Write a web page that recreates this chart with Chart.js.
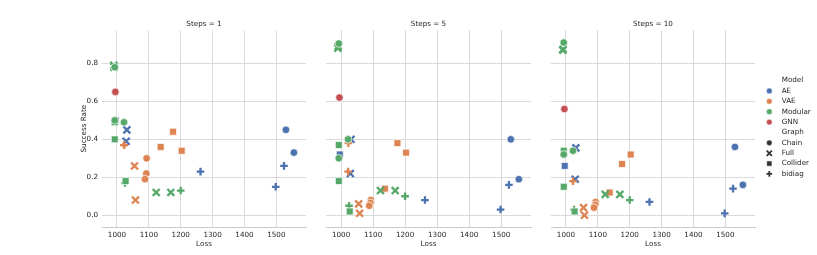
<!DOCTYPE html>
<html>
<head>
<meta charset="utf-8">
<script src="https://cdn.jsdelivr.net/npm/chart.js@4.4.1/dist/chart.umd.min.js"></script>
<style>
  html, body { margin: 0; padding: 0; background: #fff; }
  #wrap { position: relative; width: 817px; height: 255px; }
  #wrap canvas { position: absolute; left: 0; top: 0; }
</style>
</head>
<body>
<div id="wrap">
  <canvas id="panel0" width="817" height="255"></canvas>
  <canvas id="panel1" width="817" height="255"></canvas>
  <canvas id="panel2" width="817" height="255"></canvas>
</div>
<script>
const steps = [1, 5, 10];
const models = ['AE', 'VAE', 'Modular', 'GNN'];
const graphs = ['Chain', 'Full', 'Collider', 'bidiag'];
const xTicks = [1000, 1100, 1200, 1300, 1400, 1500];
const yTicks = [0.0, 0.2, 0.4, 0.6, 0.8];

// one entry per run; the loss is the same in every panel
const runModel = [
  'AE', 'AE', 'AE', 'AE', 'AE', 'AE', 'AE', 'AE',
  'VAE', 'VAE', 'VAE', 'VAE', 'VAE', 'VAE', 'VAE', 'VAE', 'VAE', 'VAE',
  'Modular', 'Modular', 'Modular', 'Modular', 'Modular', 'Modular', 'Modular', 'Modular', 'Modular', 'Modular', 'Modular', 'Modular',
  'GNN'
];
const runGraph = [
  'Chain', 'Chain', 'bidiag', 'bidiag', 'bidiag', 'Full', 'Full', 'Collider',
  'Collider', 'Collider', 'Collider', 'Chain', 'Chain', 'Chain', 'Full', 'Full', 'bidiag', 'bidiag',
  'Full', 'Full', 'Chain', 'Collider', 'Collider', 'Chain', 'Chain', 'Collider', 'bidiag', 'Full', 'Full', 'bidiag',
  'Chain'
];
const runLoss = [
  1530, 1555, 1524, 1498, 1262, 1031, 1029, 996,
  1176, 1203, 1137, 1093, 1092, 1088, 1055, 1058, 1022, 1023,
  990, 991, 993, 993, 993, 1022, 993, 1027, 1025, 1123, 1169, 1200,
  995
];
const successStep1 = [
  0.45, 0.33, 0.26, 0.15, 0.23, 0.45, 0.39, 0.50,
  0.44, 0.34, 0.36, 0.30, 0.22, 0.19, 0.26, 0.08, 0.37, 0.37,
  0.79, 0.78, 0.78, 0.49, 0.40, 0.49, 0.50, 0.18, 0.17, 0.12, 0.12, 0.13,
  0.65
];
const successStep5 = [
  0.40, 0.19, 0.16, 0.03, 0.08, 0.40, 0.22, 0.32,
  0.38, 0.33, 0.14, 0.08, 0.065, 0.05, 0.06, 0.01, 0.23, 0.38,
  0.88, 0.89, 0.905, 0.37, 0.18, 0.40, 0.30, 0.02, 0.05, 0.13, 0.13, 0.10,
  0.62
];
const successStep10 = [
  0.36, 0.16, 0.14, 0.01, 0.07, 0.355, 0.19, 0.26,
  0.27, 0.32, 0.12, 0.07, 0.055, 0.04, 0.04, 0.00, 0.18, 0.34,
  0.87, 0.875, 0.91, 0.34, 0.15, 0.34, 0.32, 0.02, 0.03, 0.11, 0.11, 0.08,
  0.56
];
const successBySteps = [successStep1, successStep5, successStep10];

const modelColors = ['#4C72B0', '#DD8452', '#55A868', '#C44E52'];
const graphStyles = ['circle', 'crossRot', 'rect', 'cross'];
const graphRadius = [3.8, 4.9, 4.9, 3.8];

const FONT = 'DejaVu Sans';
const TEXT = '#262626';
const GRID = '#dadada';
const plotLeft = [102, 326, 551];
const plotRight = [306, 531, 755];

function buildDatasets(k) {
  const sets = [];
  models.forEach((m, mi) => {
    graphs.forEach((g, gi) => {
      const data = [];
      runLoss.forEach((loss, i) => {
        if (runModel[i] === m && runGraph[i] === g) data.push({ x: loss, y: successBySteps[k][i] });
      });
      if (!data.length) return;
      const stroked = graphStyles[gi] === 'cross' || graphStyles[gi] === 'crossRot';
      sets.push({
        label: m + ' ' + g,
        data,
        order: models.length - mi,
        pointStyle: graphStyles[gi],
        pointRadius: graphRadius[gi],
        backgroundColor: modelColors[mi],
        borderColor: stroked ? modelColors[mi] : '#ffffff',
        borderWidth: stroked ? 2.3 : 0.7
      });
    });
  });
  return sets;
}

const legendPlugin = {
  id: 'facetLegend',
  afterDraw(chart) {
    const ctx = chart.ctx;
    const rowY = r => 80.6 + r * 10.37;
    const mx = 769.3, tx = 781.7;
    ctx.save();
    ctx.font = '7.2px "' + FONT + '"';
    ctx.textBaseline = 'middle';
    ctx.textAlign = 'left';
    let row = 0;
    ctx.fillStyle = TEXT;
    ctx.fillText('Model', tx, rowY(row++));
    models.forEach((m, i) => {
      ctx.fillStyle = modelColors[i];
      ctx.strokeStyle = '#ffffff';
      ctx.lineWidth = 0.5;
      Chart.helpers.drawPoint(ctx, { pointStyle: 'circle', radius: 2.9, borderWidth: 0.5 }, mx, rowY(row));
      ctx.fillStyle = TEXT;
      ctx.fillText(m, tx, rowY(row++));
    });
    ctx.fillText('Graph', tx, rowY(row++));
    graphs.forEach((g, i) => {
      const stroked = graphStyles[i] === 'cross' || graphStyles[i] === 'crossRot';
      ctx.fillStyle = '#333333';
      ctx.strokeStyle = stroked ? '#333333' : '#ffffff';
      ctx.lineWidth = stroked ? 1.8 : 0.5;
      Chart.helpers.drawPoint(ctx, { pointStyle: graphStyles[i], radius: graphRadius[i] * 0.75, borderWidth: ctx.lineWidth }, mx, rowY(row));
      ctx.fillStyle = TEXT;
      ctx.fillText(g, tx, rowY(row++));
    });
    ctx.restore();
  }
};

steps.forEach((s, k) => {
  const first = k === 0;
  const yW = first ? 28 : 0;
  new Chart(document.getElementById('panel' + k), {
    type: 'scatter',
    data: { datasets: buildDatasets(k) },
    plugins: k === steps.length - 1 ? [legendPlugin] : [],
    options: {
      responsive: false,
      animation: false,
      events: [],
      layout: { padding: { left: plotLeft[k] - yW, right: 817 - plotRight[k], top: 15, bottom: 0 } },
      plugins: {
        legend: { display: false },
        tooltip: { enabled: false },
        title: {
          display: true, text: 'Steps = ' + s, fullSize: false, color: TEXT,
          font: { family: FONT, size: 7.2, weight: 'normal' },
          padding: { top: 4.8, bottom: 1.8 }
        }
      },
      scales: {
        x: {
          type: 'linear', min: 953, max: 1593,
          afterBuildTicks: sc => { sc.ticks = xTicks.map(v => ({ value: v })); },
          afterFit: sc => { sc.height = 28; },
          grid: { color: GRID, lineWidth: 1, drawTicks: false },
          border: { display: true, color: '#cccccc', width: 1 },
          ticks: { padding: 4, color: TEXT, font: { family: FONT, size: 7.2 }, maxRotation: 0, callback: v => String(v) },
          title: { display: true, text: 'Loss', color: TEXT, font: { family: FONT, size: 7.2 }, padding: { top: 0, bottom: 7 } }
        },
        y: {
          min: -0.062, max: 0.975,
          afterBuildTicks: sc => { sc.ticks = yTicks.map(v => ({ value: v })); },
          afterFit: sc => { sc.width = yW; },
          grid: { color: GRID, lineWidth: 1, drawTicks: false },
          border: { display: false },
          ticks: { display: first, padding: 4, color: TEXT, font: { family: FONT, size: 7.2 }, callback: v => v.toFixed(1) },
          title: { display: first, text: 'Success Rate', color: TEXT, font: { family: FONT, size: 7.2 }, padding: { top: 6.3, bottom: 0 } }
        }
      }
    }
  });
});
</script>
</body>
</html>
